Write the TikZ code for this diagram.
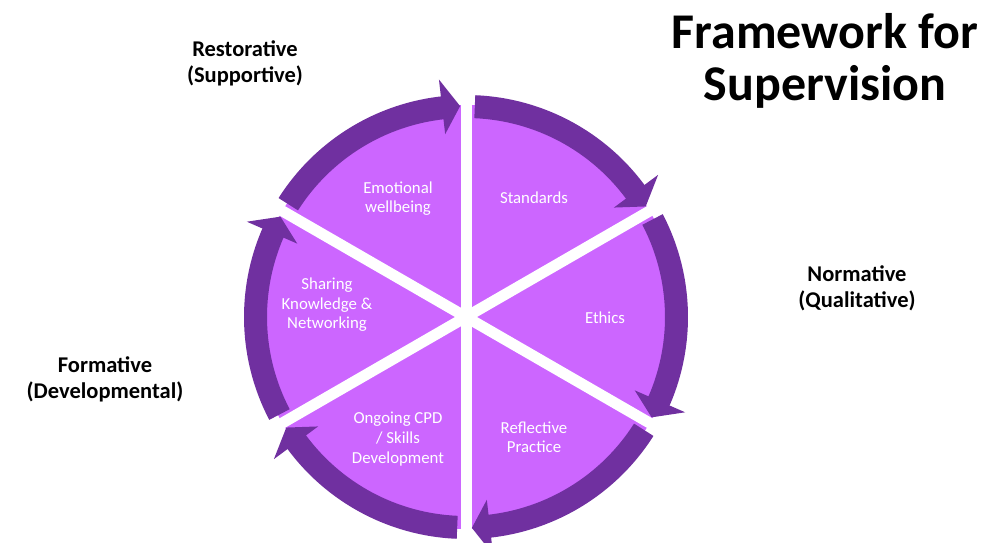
\documentclass[tikz,border=0pt]{standalone}
\usepackage{fontspec}
\setmainfont{Carlito}
\definecolor{pie}{HTML}{CC66FF}
\definecolor{band}{HTML}{7030A0}
\begin{document}
\begin{tikzpicture}[x=1pt,y=1pt,
  inner/.style={text=white, align=center, inner sep=0pt, font=\fontsize{16.8}{19.6}\selectfont},
  outer/.style={text=black, align=center, inner sep=0pt, font=\bfseries\fontsize{22.5}{26}\selectfont},
  titlestyle/.style={text=black, align=center, inner sep=0pt, font=\bfseries\fontsize{50}{52}\selectfont},
  bandfill/.style={fill=band, draw=none},
  spoke/.style={draw=white, line width=11pt}]
\useasboundingbox (0,0) rectangle (1007,542);
\coordinate (C) at (466,225);
\begin{scope}[shift={(C)}]
  \fill[pie] (0,0) circle[radius=212];
  \foreach \e in {90,30,-30,-90,-150,150}{
    \pgfmathsetmacro{\s}{\e+60-2.4}
    \pgfmathsetmacro{\b}{\e+6.0}
    \fill[bandfill] (\s:199) arc[start angle=\s, end angle=\b, radius=199]
      -- (\b:222) arc[start angle=\b, end angle=\s, radius=222] -- cycle;
  }
  \foreach \a in {90,30,-30}{
    \draw[spoke] (\a:248) -- (\a+180:248);
  }
  \foreach \e in {90,30,-30,-90,-150,150}{
    \pgfmathsetmacro{\b}{\e+6.5}
    \pgfmathsetmacro{\t}{\e+1.6}
    \fill[bandfill] (\b:184) -- (\t:211) -- (\b:239) -- cycle;
  }
\end{scope}
\node[titlestyle] (title) at (825,481.5) {Framework for\\Supervision};
\node[outer] (restorative) at (245,478.5) {Restorative\\(Supportive)};
\node[outer] (normative) at (857,254) {Normative\\(Qualitative)};
\node[outer] (formative) at (105,162.5) {Formative\\(Developmental)};
\node[inner] (emotional) at (398,343.5) {Emotional\\wellbeing};
\node[inner] (standards) at (534,344.6) {Standards};
\node[inner] (ethics) at (605,224.5) {Ethics};
\node[inner] (reflective) at (534,104.7) {Reflective\\Practice};
\node[inner] (ongoing) at (398,103) {Ongoing CPD\\/ Skills\\Development};
\node[inner] (sharing) at (327,237) {Sharing\\Knowledge \&\\Networking};
\end{tikzpicture}
\end{document}
